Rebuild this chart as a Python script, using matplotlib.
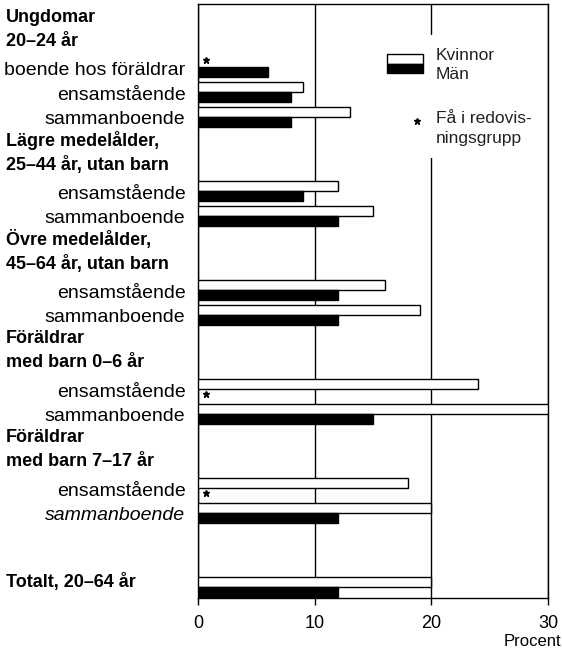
import matplotlib.pyplot as plt
from matplotlib.patches import Rectangle

plt.rcParams['font.family'] = ['Liberation Sans', 'DejaVu Sans']

# group headers (two lines each) and their row
headers = ['Ungdomar\n20–24 år', 'Lägre medelålder,\n25–44 år, utan barn',
           'Övre medelålder,\n45–64 år, utan barn', 'Föräldrar\nmed barn 0–6 år',
           'Föräldrar\nmed barn 7–17 år']
header_rows = [0, 5, 9, 13, 17]

labels = ['boende hos föräldrar', 'ensamstående', 'sammanboende',
          'ensamstående', 'sammanboende',
          'ensamstående', 'sammanboende',
          'ensamstående', 'sammanboende',
          'ensamstående', 'sammanboende',
          'Totalt, 20–64 år']
rows = [2, 3, 4, 7, 8, 11, 12, 15, 16, 19, 20, 23]
# None = few in group (star)
kvinnor = [None, 9, 13, 12, 15, 16, 19, 24, 30, 18, 20, 20]
man = [6, 8, 8, 9, 12, 12, 12, None, 15, None, 12, 12]

fig = plt.figure(figsize=(5.62, 6.51), dpi=100)
ax = fig.add_axes([198/562, 1-598/651, 350/562, 594/651])

off_k, off_m, h = -0.28, 0.12, 0.4
for r, k, m in zip(rows, kvinnor, man):
    if k is None:
        ax.plot(0.7, r + off_k - 0.1, marker='*', color='black', ms=5, zorder=4)
    else:
        ax.barh(r + off_k, k, height=h, color='white', edgecolor='black', lw=1, zorder=3)
    if m is None:
        ax.plot(0.7, r + off_m, marker='*', color='black', ms=5, zorder=4)
    else:
        ax.barh(r + off_m, m, height=h, color='black', edgecolor='black', lw=1, zorder=3)

ax.set_xlim(0, 30)
ax.set_ylim(23.37, -0.63)
ax.set_xticks([0, 10, 20, 30])
ax.set_yticks([])
ax.tick_params(axis='x', direction='out', length=5, width=1, labelsize=13, pad=7)
ax.grid(axis='x', color='black', lw=1, zorder=1)
for s in ax.spines.values():
    s.set_linewidth(1)

tr = ax.get_yaxis_transform()
for i, (lab, r) in enumerate(zip(labels, rows)):
    if lab.startswith('Totalt'):
        ax.text(-0.549, r - 0.27, lab, transform=tr, ha='left', va='center',
                fontsize=13, fontweight='bold', clip_on=False)
    else:
        ax.text(-0.036, r + 0.05, lab, transform=tr, ha='right', va='center',
                fontsize=14, style='italic' if i == 10 else 'normal', clip_on=False)
for hd, r in zip(headers, header_rows):
    l1, l2 = hd.split('\n')
    ax.text(-0.549, r - 0.1, l1, transform=tr, ha='left', va='center',
            fontsize=13, fontweight='bold', clip_on=False)
    ax.text(-0.549, r + 0.87, l2, transform=tr, ha='left', va='center',
            fontsize=13, fontweight='bold', clip_on=False)

# legend area (white block hides gridline)
ax.add_patch(Rectangle((0.52, 0.741), 0.46, 0.207, transform=ax.transAxes,
                       facecolor='white', edgecolor='none', zorder=2))
ax.add_patch(Rectangle((0.54, 0.899), 0.103, 0.017, transform=ax.transAxes,
                       facecolor='white', edgecolor='black', lw=1, zorder=5))
ax.add_patch(Rectangle((0.54, 0.884), 0.103, 0.015, transform=ax.transAxes,
                       facecolor='black', edgecolor='black', lw=1, zorder=5))
ax.text(0.68, 0.914, 'Kvinnor', transform=ax.transAxes, fontsize=12.5,
        va='center', color='#222222', zorder=6)
ax.text(0.68, 0.882, 'Män', transform=ax.transAxes, fontsize=12.5,
        va='center', color='#222222', zorder=6)
ax.plot(0.626, 0.803, marker='*', color='black', ms=5, transform=ax.transAxes, zorder=6)
ax.text(0.68, 0.808, 'Få i redovis-', transform=ax.transAxes, fontsize=12.5,
        va='center', color='#222222', zorder=6)
ax.text(0.68, 0.774, 'ningsgrupp', transform=ax.transAxes, fontsize=12.5,
        va='center', color='#222222', zorder=6)

fig.text(561/562, 1-641/651, 'Procent', ha='right', va='center', fontsize=12)

plt.savefig('out.png', dpi=100)
